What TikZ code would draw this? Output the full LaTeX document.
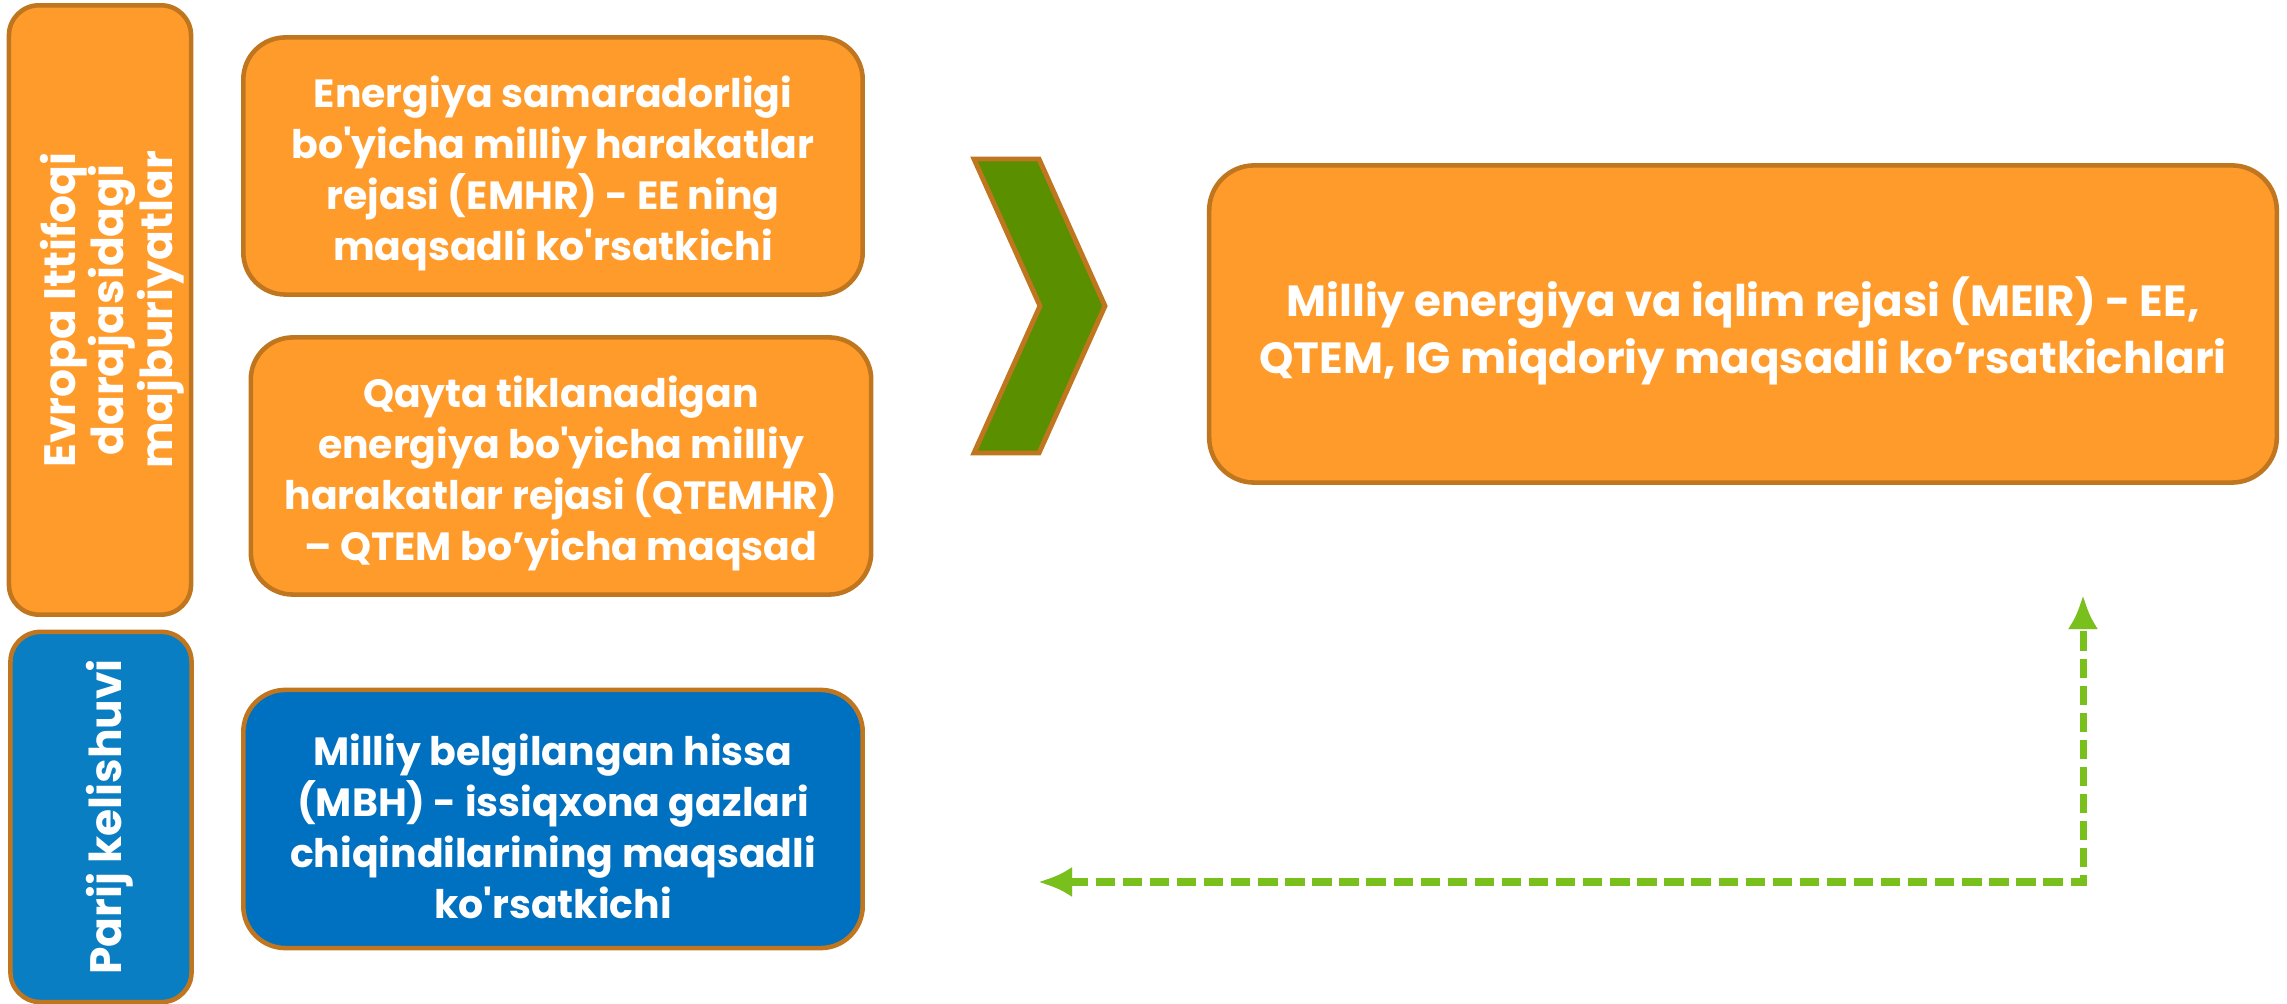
\documentclass[tikz,border=0pt]{standalone}
\usepackage{fontspec}
\setmainfont{Poppins}[Ligatures=TeXOff]
\usetikzlibrary{arrows.meta}
\definecolor{boxorange}{HTML}{FF9B2B}
\definecolor{boxedge}{HTML}{C0761E}
\definecolor{boxblue}{HTML}{0070C0}
\definecolor{sideblue}{HTML}{0A7EC2}
\definecolor{chevgreen}{HTML}{5A8F00}
\definecolor{arrowgreen}{HTML}{7AC01C}

\begin{document}
\begin{tikzpicture}[x=0.01cm,y=-0.01cm,
  goalbox/.style={draw=boxedge,line width=1.3pt,rounded corners=0.42cm,inner sep=0pt},
  goaltext/.style={text=white,font=\bfseries\fontsize{11.2}{14.5}\selectfont,align=center,inner sep=0pt},
  sidebox/.style={draw=boxedge,line width=1.3pt,rounded corners=0.3cm},
  sidetext/.style={white,font=\bfseries\fontsize{12.5}{13.8}\selectfont,align=center,rotate=90},
  linkline/.style={arrowgreen,line width=2pt,dash pattern=on 5.5pt off 2.2pt,
    {Latex[length=3.4mm,width=3mm]}-{Latex[length=3.4mm,width=3mm]}}]
\useasboundingbox (0,0) rectangle (2287,1004);

% left side labels
\node[sidebox,fill=boxorange,minimum width=1.82cm,minimum height=6.09cm] (eu) at (100,310) {};
\node[sidetext] (eu-t) at ([xshift=0.12cm]eu.center) {Evropa Ittifoqi\\darajasidagi\\majburiyatlar};
\node[sidebox,fill=sideblue,minimum width=1.81cm,minimum height=3.70cm] (parij) at (101,817) {};
\node[sidetext] (parij-t) at ([xshift=0.09cm]parij.center) {Parij kelishuvi};

% plans
\node[goalbox,fill=boxorange,minimum width=6.19cm,minimum height=2.57cm] (emhr) at (553,166) {};
\node[goaltext] (emhr-t) at ([yshift=-0.07cm]emhr.center) {Energiya samaradorligi\\bo'yicha milliy harakatlar\\rejasi (EMHR) - EE ning\\maqsadli ko'rsatkichi};
\node[goalbox,fill=boxorange,minimum width=6.2cm,minimum height=2.57cm] (qtemhr) at (561,466) {};
\node[goaltext] (qtemhr-t) at ([yshift=-0.07cm]qtemhr.center) {Qayta tiklanadigan\\energiya bo'yicha milliy\\harakatlar rejasi (QTEMHR)\\– QTEM bo’yicha maqsad};
\node[goalbox,fill=boxblue,minimum width=6.19cm,minimum height=2.58cm] (mbh) at (553,819) {};
\node[goaltext] (mbh-t) at ([yshift=-0.07cm]mbh.center) {Milliy belgilangan hissa\\(MBH) - issiqxona gazlari\\chiqindilarining maqsadli\\ko'rsatkichi};

% chevron
\draw[boxedge,line width=1.4pt,fill=chevgreen,line join=miter] (974,159) -- (1039,159) -- (1105,306) -- (1039,453) -- (974,453) -- (1040,306) -- cycle;

\node[goalbox,fill=boxorange,rounded corners=0.45cm,minimum width=10.67cm,minimum height=3.17cm] (meir) at (1743,324) {};
\node[goaltext,font=\bfseries\fontsize{12.4}{16.3}\selectfont] (meir-t) at ([yshift=-0.07cm]meir.center) {Milliy energiya va iqlim rejasi (MEIR) - EE,\\QTEM, IG miqdoriy maqsadli ko’rsatkichlari};

% feedback link
\coordinate (back) at (1038,882);
\coordinate (turn) at (2083,882);
\coordinate (up) at (2083,595);
\draw[linkline,black!40,opacity=0.45,shift={(2,6)}] (back) -- (turn) -- (up);
\draw[linkline] (back) -- (turn) -- (up);

\end{tikzpicture}
\end{document}
